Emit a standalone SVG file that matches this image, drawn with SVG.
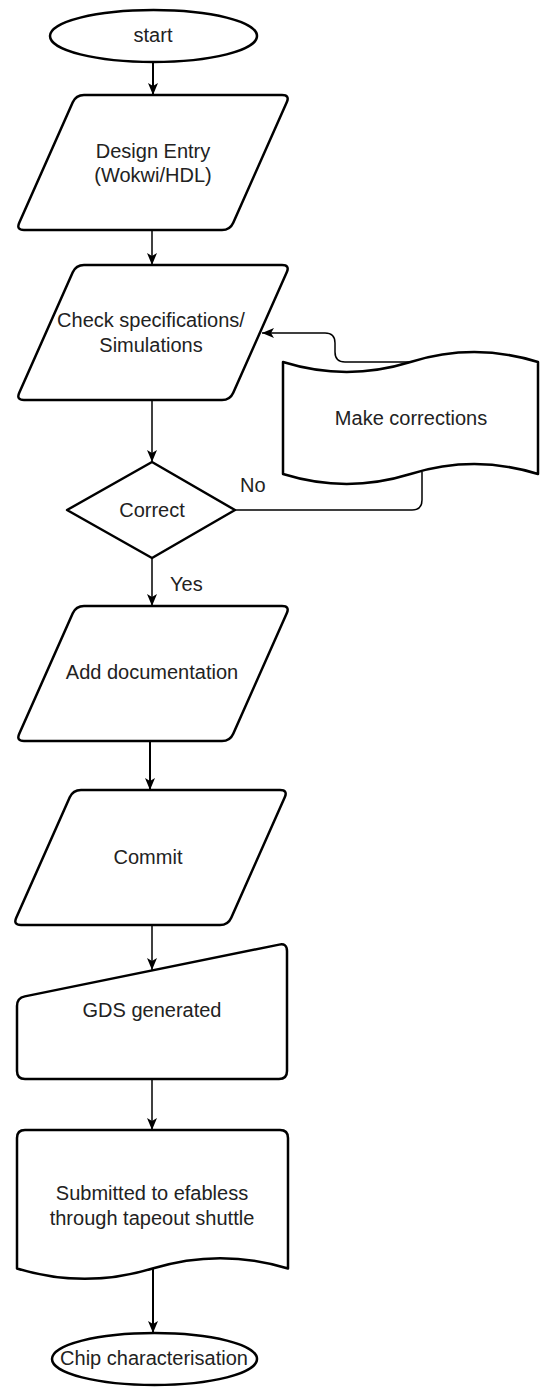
<svg xmlns="http://www.w3.org/2000/svg" width="550" height="1396" viewBox="0 0 550 1396">
<style>
.shape{fill:#fff;stroke:#000;stroke-width:2.5;stroke-linejoin:round}
.conn{fill:none;stroke:#000;stroke-width:1.5}
.thick{stroke-width:2}
.lbl{font-family:"Liberation Sans",Arial,sans-serif;font-size:20px;fill:#222;text-anchor:middle}
.edge{font-family:"Liberation Sans",Arial,sans-serif;font-size:20px;fill:#222}
</style>
<defs>
<marker id="arr" markerUnits="userSpaceOnUse" markerWidth="13" markerHeight="11" refX="12" refY="5" orient="auto">
<path d="M0,0 L12,5 L0,10 L3,5 Z" fill="#000"/>
</marker>
</defs>
<rect width="550" height="1396" fill="#fff"/>
<g id="connectors">
<path class="conn thick" d="M153,62 L153,95" marker-end="url(#arr)"/>
<path class="conn" d="M152,230 L152,265" marker-end="url(#arr)"/>
<path class="conn" d="M152,400 L152,462" marker-end="url(#arr)"/>
<path class="conn" d="M152,558 L152,606" marker-end="url(#arr)"/>
<path class="conn thick" d="M150,741 L150,790" marker-end="url(#arr)"/>
<path class="conn" d="M152,925 L152,970" marker-end="url(#arr)"/>
<path class="conn" d="M152,1079 L152,1130" marker-end="url(#arr)"/>
<path class="conn thick" d="M153,1268 L153,1333" marker-end="url(#arr)"/>
<path class="conn" d="M235,510 L412,510 Q422,510 422,500 L422,472"/>
<path class="conn" d="M410,362 L345,362 Q335,362 335,352 L335,343 Q335,333 325,333 L262,333" marker-end="url(#arr)"/>
<text class="edge" x="240" y="492">No</text>
<text class="edge" x="170" y="591">Yes</text>
</g>
<g id="start">
<ellipse class="shape" cx="153.5" cy="36" rx="103.5" ry="26"/>
<text class="lbl" x="153" y="42">start</text>
</g>
<g id="design-entry">
<path class="shape" d="M84,95 L282,95 Q290,95 286.75,102.31 L233.25,222.69 Q230,230 222,230 L24,230 Q16,230 19.25,222.69 L72.75,102.31 Q76,95 84,95 Z"/>
<text class="lbl" x="153" y="158">Design Entry</text>
<text class="lbl" x="153" y="182">(Wokwi/HDL)</text>
</g>
<g id="check">
<path class="shape" d="M84,265 L282,265 Q290,265 286.75,272.31 L233.25,392.69 Q230,400 222,400 L24,400 Q16,400 19.25,392.69 L72.75,272.31 Q76,265 84,265 Z"/>
<text class="lbl" x="151" y="327">Check specifications/</text>
<text class="lbl" x="151" y="352">Simulations</text>
</g>
<g id="make-corrections">
<path class="shape" d="M283,362 Q346.75,381.8 410.5,362 Q474.25,342.2 538,362 L538,474 Q474.25,454.2 410.5,474 Q346.75,493.8 283,474 Z"/>
<text class="lbl" x="411" y="425">Make corrections</text>
</g>
<g id="correct">
<path class="shape" d="M152,462 L235,510 L152,558 L67,510 Z"/>
<text class="lbl" x="152" y="517">Correct</text>
</g>
<g id="add-documentation">
<path class="shape" d="M84,606 L282,606 Q290,606 286.75,613.31 L233.25,733.69 Q230,741 222,741 L24,741 Q16,741 19.25,733.69 L72.75,613.31 Q76,606 84,606 Z"/>
<text class="lbl" x="152" y="679">Add documentation</text>
</g>
<g id="commit">
<path class="shape" d="M81,790 L280,790 Q288,790 284.75,797.31 L231.25,917.69 Q228,925 220,925 L21,925 Q13,925 16.25,917.69 L69.75,797.31 Q73,790 81,790 Z"/>
<text class="lbl" x="148" y="864">Commit</text>
</g>
<g id="gds">
<path class="shape" d="M24.84,996.4 L279.16,944.6 Q287,943 287,951 L287,1071 Q287,1079 279,1079 L25,1079 Q17,1079 17,1071 L17,1006 Q17,998 24.84,996.4 Z"/>
<text class="lbl" x="152" y="1017">GDS generated</text>
</g>
<g id="submitted">
<path class="shape" d="M25,1130 L280,1130 Q288,1130 288,1138 L288,1268.5 Q220.25,1247.8 152.5,1268.5 Q84.75,1289.2 17,1268.5 L17,1138 Q17,1130 25,1130 Z"/>
<text class="lbl" x="152" y="1200">Submitted to efabless</text>
<text class="lbl" x="152" y="1225">through tapeout shuttle</text>
</g>
<g id="chip">
<ellipse class="shape" cx="154.5" cy="1359" rx="102.5" ry="26"/>
<text class="lbl" x="154" y="1365">Chip characterisation</text>
</g>
</svg>
